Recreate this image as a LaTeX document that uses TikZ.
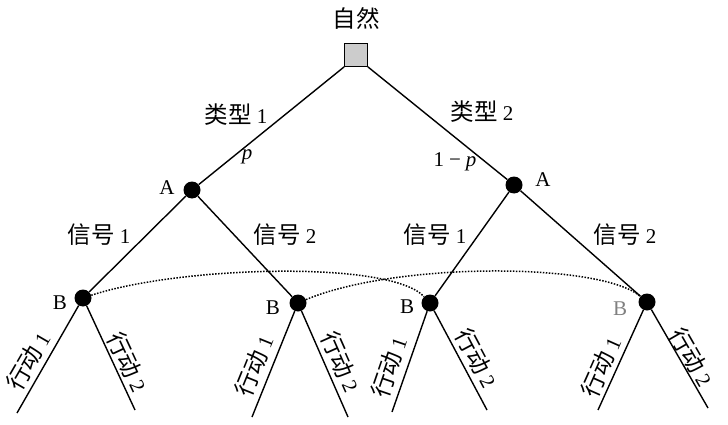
\documentclass[tikz,border=0pt]{standalone}
\usepackage{fontspec}
\setmainfont{Liberation Serif}
\newfontfamily\cjk[Scale=1.12]{Noto Sans CJK SC}
\begin{document}
\begin{tikzpicture}[x=1pt,y=1pt,
  every node/.style={font=\fontsize{21}{25}\selectfont, inner sep=0pt},
  edge/.style={line width=1.4pt},
  info/.style={dash pattern=on 1.5pt off 1.5pt, line width=1.5pt},
  dec/.style={circle, fill=black, minimum size=17pt},
  nature/.style={rectangle, draw=black, line width=0.7pt, fill=gray!40, minimum size=23pt}]
\useasboundingbox (0,0) rectangle (728,-425);
\node[nature] (nat) at (356,-55) {};
\node[dec] (A1) at (192,-190) {};
\node[dec] (A2) at (514,-185) {};
\node[dec] (B1) at (83,-298) {};
\node[dec] (B2) at (298,-303) {};
\node[dec] (B3) at (430,-303) {};
\node[dec] (B4) at (647,-302) {};
\coordinate (l1) at (17,-413);
\coordinate (r1) at (135,-410);
\coordinate (l2) at (252,-417);
\coordinate (r2) at (348,-417);
\coordinate (l3) at (392,-412);
\coordinate (r3) at (487,-410);
\coordinate (l4) at (598,-410);
\coordinate (r4) at (708,-408);

\draw[edge] (nat.south west) -- (A1);
\draw[edge] (nat.south east) -- (A2);
\draw[edge] (A1) -- (B1);
\draw[edge] (A1) -- (B2);
\draw[edge] (A2) -- (B3);
\draw[edge] (A2) -- (B4);
\foreach \i in {1,2,3,4}{
  \draw[edge] (B\i) -- (l\i);
  \draw[edge] (B\i) -- (r\i);
}
\draw[info] (B1) .. controls (180,-266) and (390,-260) .. (B3);
\draw[info] (B2) .. controls (395,-262) and (600,-262) .. (B4);

\node (tnat) at (356,-18) {{\cjk 自然}};
\node (t1) at (236,-115) {{\cjk 类型} 1};
\node (tp) at (247,-157) {\textit{p}};
\node (tA1) at (167,-188) {A};
\node (t2) at (482,-112) {{\cjk 类型} 2};
\node (tq) at (455,-162) {1\kern5pt−\kern5pt\textit{p}};
\node (tA2) at (543,-180) {A};
\node (s11) at (99,-235) {{\cjk 信号} 1};
\node (s12) at (285,-235) {{\cjk 信号} 2};
\node (s21) at (435,-235) {{\cjk 信号} 1};
\node (s22) at (625,-235) {{\cjk 信号} 2};
\node (tB1) at (60,-303) {B};
\node (tB2) at (273,-308) {B};
\node (tB3) at (407,-307) {B};
\node[text=gray] (tB4) at (620,-309) {B};
\node[rotate=60] (a11) at (28,-361) {{\cjk 行动} 1};
\node[rotate=-65] (a12) at (128,-362) {{\cjk 行动} 2};
\node[rotate=68] (a21) at (254,-366) {{\cjk 行动} 1};
\node[rotate=-66] (a22) at (341,-362) {{\cjk 行动} 2};
\node[rotate=71] (a31) at (389,-367) {{\cjk 行动} 1};
\node[rotate=-62] (a32) at (477,-358) {{\cjk 行动} 2};
\node[rotate=66] (a41) at (601,-367) {{\cjk 行动} 1};
\node[rotate=-60] (a42) at (692,-357) {{\cjk 行动} 2};
\end{tikzpicture}
\end{document}
